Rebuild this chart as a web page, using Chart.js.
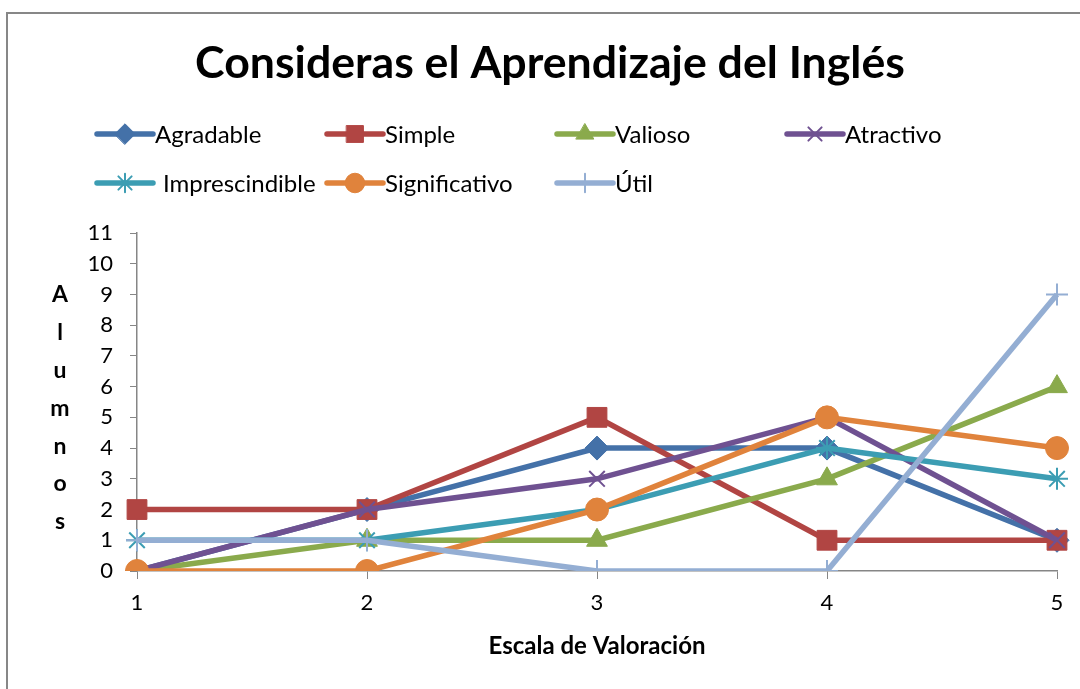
<!DOCTYPE html>
<html>
<head>
<meta charset="utf-8">
<script src="https://cdn.jsdelivr.net/npm/chart.js@4/dist/chart.umd.min.js"></script>
<style>
  html, body { margin: 0; background: #fff; }
  #wrap { width: 1080px; height: 689px; }
</style>
</head>
<body>
<div id="wrap"><canvas id="chart"></canvas></div>
<script>
const categories = ['1', '2', '3', '4', '5'];
const seriesNames = ['Agradable', 'Simple', 'Valioso', 'Atractivo', 'Imprescindible', 'Significativo', 'Útil'];
const agradable = [0, 2, 4, 4, 1];
const simple = [2, 2, 5, 1, 1];
const valioso = [0, 1, 1, 3, 6];
const atractivo = [0, 2, 3, 5, 1];
const imprescindible = [1, 1, 2, 4, 3];
const significativo = [0, 0, 2, 5, 4];
const util = [1, 1, 0, 0, 9];
const yTicks = [0, 1, 2, 3, 4, 5, 6, 7, 8, 9, 10, 11];

const chartTitle = 'Consideras el Aprendizaje del Inglés';
const xTitle = 'Escala de Valoración';
const yTitle = 'Alumnos';

const FONT = 'Lato, "Open Sans", sans-serif';

const styles = [
  { color: '#4471a8', point: 'rectRot', r: 12, bw: 1 },
  { color: '#b14543', point: 'rect', r: 14, bw: 1 },
  { color: '#8aaa4c', point: 'triangle', r: 12, bw: 1 },
  { color: '#6f5191', point: 'crossRot', r: 11, bw: 2 },
  { color: '#3c9db3', point: 'star', r: 11, bw: 2 },
  { color: '#e0833c', point: 'circle', r: 11.5, bw: 1 },
  { color: '#94aed3', point: 'cross', r: 11, bw: 2 },
];
const values = [agradable, simple, valioso, atractivo, imprescindible, significativo, util];

const datasets = seriesNames.map((name, i) => ({
  label: name,
  data: values[i],
  borderColor: styles[i].color,
  backgroundColor: styles[i].color,
  pointBackgroundColor: styles[i].color,
  pointBorderColor: styles[i].color,
  pointStyle: styles[i].point,
  pointRadius: styles[i].r,
  pointBorderWidth: styles[i].bw,
  borderWidth: 5.5,
  tension: 0,
  order: seriesNames.length - i,
}));

// title, legend, axis titles and the frame
const decor = {
  id: 'decor',
  beforeDraw(chart) {
    const ctx = chart.ctx;
    ctx.save();
    ctx.fillStyle = '#fff';
    ctx.fillRect(0, 0, chart.width, chart.height);
    ctx.strokeStyle = '#878787';
    ctx.lineWidth = 2;
    ctx.strokeRect(7, 13, 1200, 800);
    ctx.restore();
  },
  afterDraw(chart) {
    const ctx = chart.ctx;
    const area = chart.chartArea;
    ctx.save();
    ctx.fillStyle = '#000';

    // title, fitted to the reference width
    let size = 44;
    ctx.font = `bold ${size}px ${FONT}`;
    size = size * 710 / ctx.measureText(chartTitle).width;
    ctx.font = `bold ${size}px ${FONT}`;
    ctx.textAlign = 'center';
    ctx.textBaseline = 'middle';
    ctx.fillText(chartTitle, 550, 64);

    // legend in a fixed 4-column grid
    ctx.font = `24px ${FONT}`;
    ctx.textAlign = 'left';
    seriesNames.forEach((name, i) => {
      const x = 97 + (i % 4) * 230;
      const y = i < 4 ? 134 : 183;
      const st = styles[i];
      ctx.strokeStyle = st.color;
      ctx.fillStyle = st.color;
      ctx.lineWidth = 5.5;
      ctx.lineCap = 'round';
      ctx.beginPath();
      ctx.moveTo(x, y);
      ctx.lineTo(x + 56, y);
      ctx.stroke();
      ctx.lineWidth = st.bw;
      Chart.helpers.drawPoint(ctx, { pointStyle: st.point, radius: st.r * 0.85, rotation: 0, borderWidth: st.bw }, x + 28, y);
      ctx.fillStyle = '#000';
      ctx.fillText(name, x + (i === 4 ? 66 : 58), y + 1);
    });

    // vertical stacked y title
    ctx.font = `bold 23px ${FONT}`;
    ctx.textAlign = 'center';
    [...yTitle].forEach((ch, i) => ctx.fillText(ch, 60, 295 + i * 37.8));

    // x title
    ctx.font = `bold 24px ${FONT}`;
    ctx.fillText(xTitle, (area.left + area.right) / 2, 646);
    ctx.restore();
  }
};

new Chart(document.getElementById('chart'), {
  type: 'line',
  data: { labels: categories, datasets },
  plugins: [decor],
  options: {
    responsive: true,
    maintainAspectRatio: false,
    animation: false,
    layout: { padding: { left: 0, top: 233, right: 23, bottom: 0 } },
    plugins: {
      legend: { display: false },
      title: { display: false },
      tooltip: { enabled: false },
    },
    scales: {
      x: {
        offset: false,
        grid: { display: true, drawOnChartArea: false, drawTicks: true, tickLength: 8, color: '#868686' },
        border: { color: '#868686', width: 1.5 },
        ticks: { color: '#000', font: { family: FONT, size: 22 }, padding: 11 },
        afterFit(scale) { scale.height = 118; },
      },
      y: {
        min: 0,
        max: 11,
        afterBuildTicks(scale) { scale.ticks = yTicks.map(v => ({ value: v })); },
        grid: { display: true, drawOnChartArea: false, drawTicks: true, tickLength: 7, color: '#868686' },
        border: { color: '#868686', width: 1.5 },
        ticks: { color: '#000', font: { family: FONT, size: 22 }, padding: 17 },
        afterFit(scale) { scale.width = 137; },
      },
    },
  },
});
</script>
</body>
</html>
